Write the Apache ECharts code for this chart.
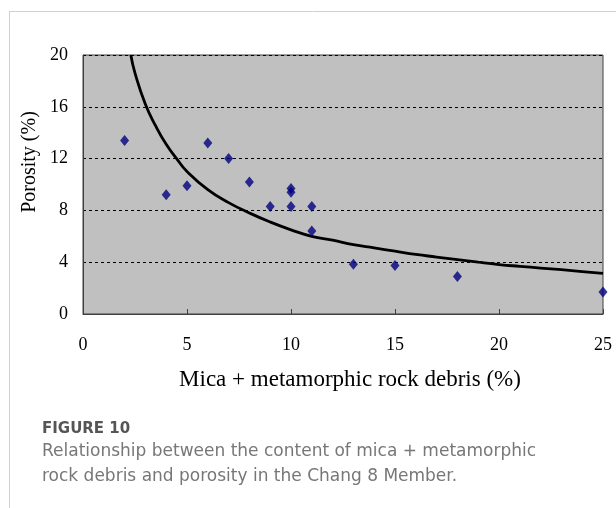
<!DOCTYPE html>
<html>
<head>
<meta charset="utf-8">
<script src="https://cdn.jsdelivr.net/npm/echarts@6/dist/echarts.min.js"></script>
<style>
html,body{margin:0;padding:0;background:#fff;}
#chart{width:616px;height:508px;}
</style>
</head>
<body>
<div id="chart"></div>
<script>
// Sample points: mica + metamorphic rock debris (%) vs porosity (%)
var sampleX = [2, 4, 5, 6, 7, 8, 9, 10, 10, 10, 11, 11, 13, 15, 18, 25];
var sampleY = [13.4, 9.2, 9.9, 13.2, 12.0, 10.2, 8.3, 9.7, 9.4, 8.3, 8.3, 6.4, 3.85, 3.75, 2.9, 1.7];

// Trend curve
var curveX = [2.3, 2.5, 3, 3.5, 4, 4.5, 5, 6, 7, 8, 9, 10, 11, 12, 13, 14, 15, 16, 17, 18, 19, 20, 21, 22, 23, 24, 25];
var curveY = [20, 18.6, 16.2, 14.5, 13.1, 12.0, 11.0, 9.6, 8.6, 7.8, 7.1, 6.5, 6.0, 5.7, 5.35, 5.1, 4.85, 4.6, 4.4, 4.2, 4.0, 3.82, 3.68, 3.55, 3.42, 3.28, 3.13];

var xTicks = [0, 5, 10, 15, 20, 25];
var yTicks = [0, 4, 8, 12, 16, 20];

var xTitle = 'Mica + metamorphic rock debris (%)';
var yTitle = 'Porosity (%)';
var figLabel = 'FIGURE 10';
var captionLines = ['Relationship between the content of mica + metamorphic', 'rock debris and porosity in the Chang 8 Member.'];

var serif = '"Liberation Serif", "Times New Roman", serif';
var sans = '"DejaVu Sans", "Open Sans", sans-serif';

function zip(a, b) { return a.map(function (v, i) { return [v, b[i]]; }); }

var chart = echarts.init(document.getElementById('chart'), null, {renderer: 'canvas'});
chart.setOption({
  animation: false,
  backgroundColor: '#ffffff',
  grid: {
    left: 83, top: 55, width: 520, height: 259,
    show: true, backgroundColor: '#C0C0C0', borderColor: '#404040', borderWidth: 1
  },
  xAxis: {
    type: 'value',
    min: xTicks[0], max: xTicks[xTicks.length - 1], interval: xTicks[1] - xTicks[0],
    name: xTitle, nameLocation: 'middle', nameGap: 54,
    nameTextStyle: {fontFamily: serif, fontSize: 23, color: '#000', padding: [0, 0, 0, 14]},
    axisLine: {show: true, lineStyle: {color: '#404040', width: 1}},
    axisTick: {show: true, inside: true, length: 5, lineStyle: {color: '#404040'}},
    axisLabel: {fontFamily: serif, fontSize: 18, color: '#000', margin: 22},
    splitLine: {show: false}
  },
  yAxis: {
    type: 'value',
    min: yTicks[0], max: yTicks[yTicks.length - 1], interval: yTicks[1] - yTicks[0],
    axisLine: {show: true, lineStyle: {color: '#404040', width: 1}},
    axisTick: {show: false},
    axisLabel: {fontFamily: serif, fontSize: 18, color: '#000', margin: 15},
    splitLine: {show: true, lineStyle: {color: '#000', type: [3, 3], width: 1}}
  },
  series: [
    {
      type: 'line', data: zip(curveX, curveY), smooth: true, showSymbol: false,
      lineStyle: {color: '#000', width: 2.8}, z: 2
    },
    {
      type: 'scatter', data: zip(sampleX, sampleY), symbol: 'diamond', symbolSize: [9, 11],
      itemStyle: {color: '#000080'}, z: 3
    }
  ],
  graphic: [
    {type: 'line', shape: {x1: 9.5, y1: 11, x2: 9.5, y2: 508}, style: {stroke: '#d0d0d0', lineWidth: 1}},
    {type: 'line', shape: {x1: 9, y1: 11.5, x2: 616, y2: 11.5}, style: {stroke: '#d0d0d0', lineWidth: 1}},
    {type: 'text', x: 30, y: 162, rotation: Math.PI / 2,
     style: {text: yTitle, font: '20px ' + serif, fill: '#000', textAlign: 'center', textVerticalAlign: 'middle'}},
    {type: 'text', x: 42, y: 429,
     style: {text: figLabel, font: 'bold 15px ' + sans, fill: '#555', textAlign: 'left', textVerticalAlign: 'middle'}},
    {type: 'text', x: 42, y: 452,
     style: {text: captionLines[0], font: '17px ' + sans, fill: '#777', textAlign: 'left', textVerticalAlign: 'middle'}},
    {type: 'text', x: 42, y: 477,
     style: {text: captionLines[1], font: '17px ' + sans, fill: '#777', textAlign: 'left', textVerticalAlign: 'middle'}}
  ]
});
</script>
</body>
</html>
